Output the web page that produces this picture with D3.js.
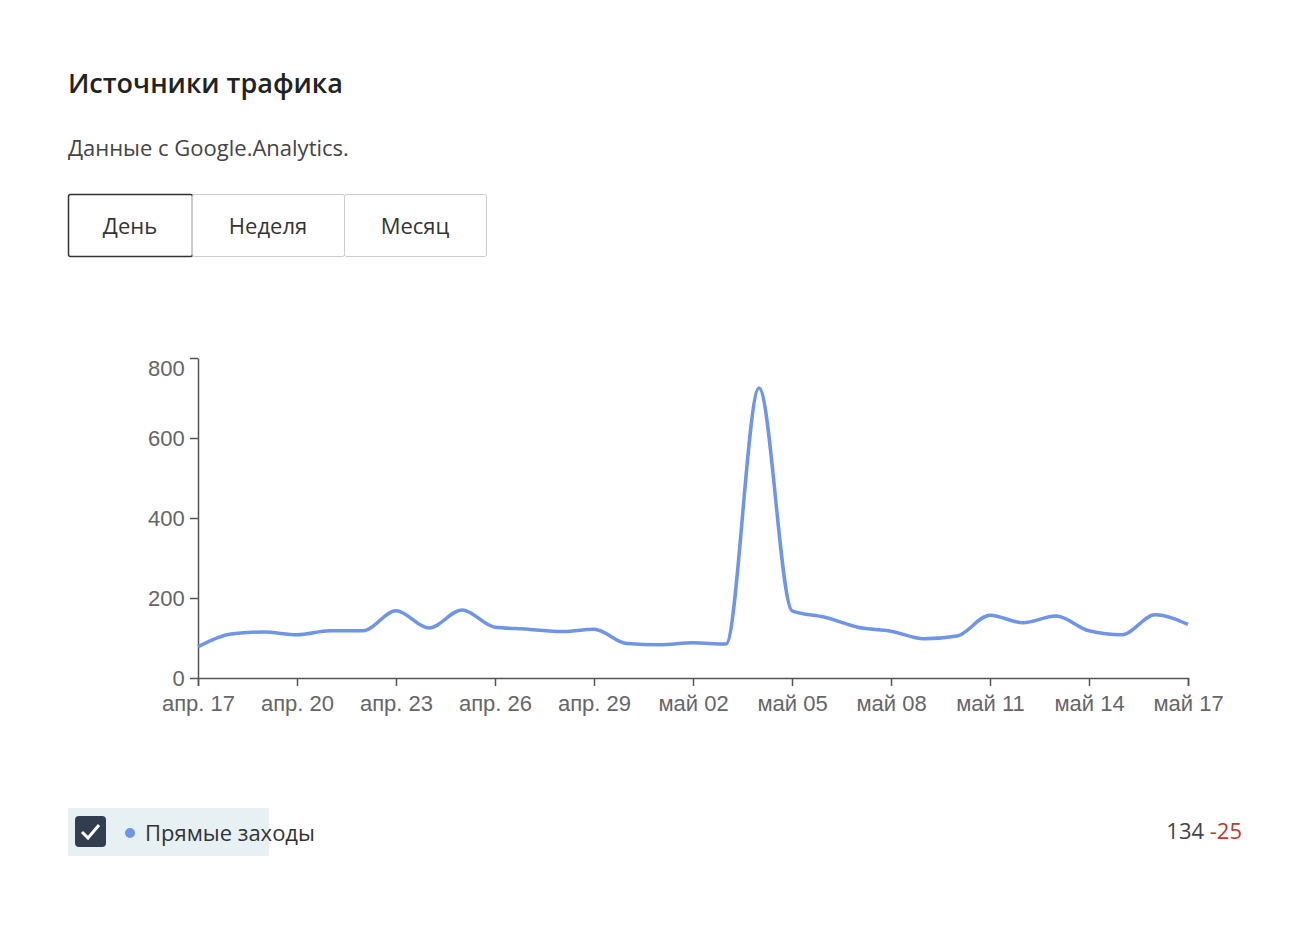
<!DOCTYPE html>
<html><head><meta charset="utf-8">
<script src="https://cdn.jsdelivr.net/npm/d3@7"></script>
<style>
body{margin:0;font-family:"Open Sans","Liberation Sans",sans-serif;background:#fff;color:#222}
</style></head>
<body>
<svg id="chart" width="1310" height="940"></svg>
<script>
// days from apr 17 to may 17
const startDate = new Date(2020, 3, 17);
const visits = [78,110,115,108,118,118,168,125,170,127,122,116,122,86,83,88,85,725,168,152,127,117,98,105,157,138,155,118,108,158,134];
const yTicks = [0,200,400,600,800];
const monthNames = ["янв.","февр.","мар.","апр.","май","июн."];
const buttons = ["День","Неделя","Месяц"];
const buttonWidths = [124,152,142];

const svg = d3.select("#chart");

svg.append("text").attr("x",68).attr("y",93).attr("font-size",27).attr("font-weight",600).attr("fill","#222").text("Источники трафика");
svg.append("text").attr("x",68).attr("y",156).attr("font-size",22).attr("fill","#444").text("Данные с Google.Analytics.");

// button group
let bx = 68;
buttons.forEach((b,i) => {
    const g = svg.append("g").attr("transform","translate("+bx+",194)");
    g.append("rect").attr("x",0.5).attr("y",0.5).attr("width",buttonWidths[i]).attr("height",62)
        .attr("fill","#fff").attr("stroke", i===0 ? "#333" : "#ccc").attr("stroke-width", i===0 ? 1.5 : 1).attr("rx", 2);
    g.append("text").attr("x",buttonWidths[i]/2).attr("y",40).attr("text-anchor","middle")
        .attr("font-size",22).attr("fill","#333").text(b);
    bx += buttonWidths[i];
});

const data = visits.map((v,i) => ({date: d3.timeDay.offset(startDate, i), value: v}));

const x = d3.scaleTime().domain([startDate, d3.timeDay.offset(startDate, visits.length-1)]).range([198,1188]);
const y = d3.scaleLinear().domain([0,800]).range([678,358]);

const fmt = d => monthNames[d.getMonth()] + " " + d3.timeFormat("%d")(d);
const xTicks = d3.range(0, visits.length, 3).map(i => d3.timeDay.offset(startDate, i));

const xAxis = svg.append("g").attr("transform","translate(0,678)")
    .call(d3.axisBottom(x).tickValues(xTicks).tickFormat(fmt).tickSizeOuter(0).tickSize(8));
const yAxis = svg.append("g").attr("transform","translate(198,0)")
    .call(d3.axisLeft(y).tickValues(yTicks).tickSize(8).tickSizeOuter(0));
[xAxis,yAxis].forEach(a => {
    a.selectAll("path,line").attr("stroke","#555").attr("stroke-width",1.5);
    a.selectAll("text").attr("font-size",22).attr("fill","#666").attr("font-family","inherit");
});
xAxis.selectAll("text").attr("dy","1.0em");
yAxis.selectAll("text").attr("dx","-0.1em");
yAxis.selectAll(".tick").filter(d => d === 800).select("text").attr("dy","0.8em");

svg.append("path").datum(data)
    .attr("fill","none").attr("stroke","#6f95e8").attr("stroke-width",3.5)
    .attr("d", d3.line().x(d => x(d.date)).y(d => y(d.value)).curve(d3.curveMonotoneX));

// legend
svg.append("rect").attr("x",68).attr("y",808).attr("width",201).attr("height",48).attr("fill","#e7f0f3");
svg.append("rect").attr("x",75).attr("y",816).attr("width",31).attr("height",31).attr("rx",4).attr("fill","#323d4f");
svg.append("path").attr("d","M82,832 L88,838 L99,825").attr("fill","none").attr("stroke","#fff").attr("stroke-width",3);
svg.append("circle").attr("cx",130).attr("cy",833).attr("r",5).attr("fill","#6f95e8");
svg.append("text").attr("x",145).attr("y",841).attr("font-size",22).attr("fill","#333").text("Прямые заходы");

const last = visits[visits.length-1], diff = last - 159;
const t = svg.append("text").attr("x",1242).attr("y",839).attr("text-anchor","end").attr("font-size",22);
t.append("tspan").attr("fill","#444").text(last + " ");
t.append("tspan").attr("fill","#c0392b").text(diff);
</script>
</body></html>
